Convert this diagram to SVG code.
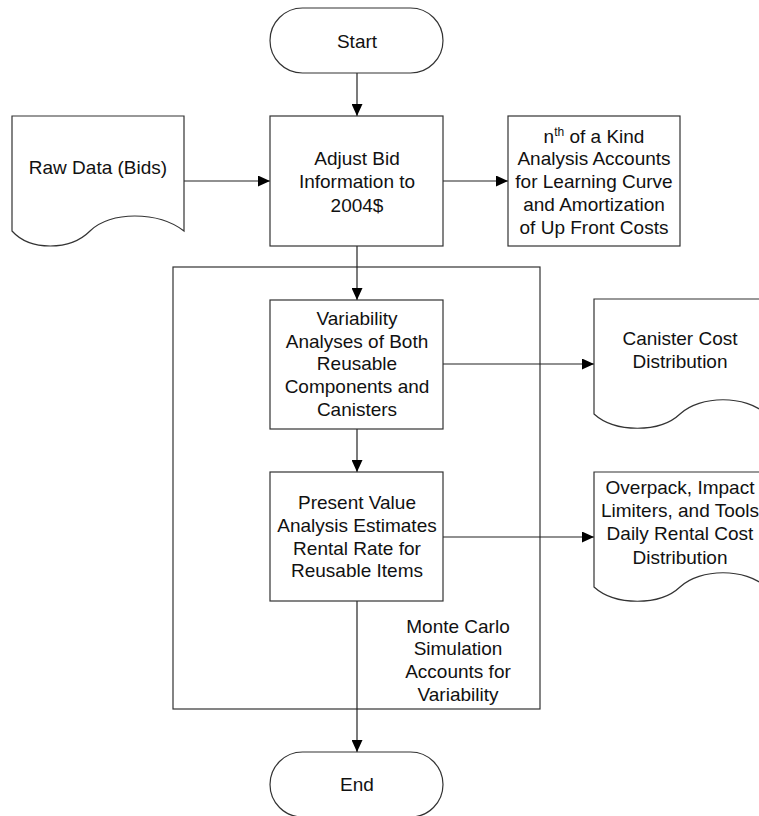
<svg xmlns="http://www.w3.org/2000/svg" width="759" height="816" viewBox="0 0 759 816">
<defs>
<marker id="arr" markerWidth="12" markerHeight="11" refX="12" refY="5.5" orient="auto" markerUnits="userSpaceOnUse">
<path d="M0,0 L12,5.5 L0,11 Z" fill="#000"/>
</marker>
<style>
.s{fill:#fff;stroke:#333;stroke-width:1.2}
.c{fill:none;stroke:#222;stroke-width:1.2}
.t{font-family:"Liberation Sans",Arial,sans-serif;font-size:19px;fill:#111;text-anchor:middle}
</style>
</defs>
<rect x="0" y="0" width="759" height="816" fill="#fff"/>
<g id="container">
<rect class="s" x="173" y="267" width="367" height="442" style="fill:none"/>
<text class="t"><tspan x="458" y="632.5">Monte Carlo</tspan><tspan x="458" y="655">Simulation</tspan><tspan x="458" y="678">Accounts for</tspan><tspan x="458" y="700.5">Variability</tspan></text>
</g>
<g id="connectors">
<line class="c" x1="357" y1="73" x2="357" y2="116" marker-end="url(#arr)"/>
<line class="c" x1="184" y1="181" x2="270" y2="181" marker-end="url(#arr)"/>
<line class="c" x1="443" y1="181" x2="508" y2="181" marker-end="url(#arr)"/>
<line class="c" x1="357" y1="246" x2="357" y2="300" marker-end="url(#arr)"/>
<line class="c" x1="443" y1="364" x2="594" y2="364" marker-end="url(#arr)"/>
<line class="c" x1="357" y1="429" x2="357" y2="472" marker-end="url(#arr)"/>
<line class="c" x1="443" y1="537" x2="594" y2="537" marker-end="url(#arr)"/>
<line class="c" x1="357" y1="601" x2="357" y2="752" marker-end="url(#arr)"/>
</g>
<g id="start">
<rect class="s" x="270" y="8" width="173" height="65" rx="32.5" ry="32.5"/>
<text class="t" x="357" y="48">Start</text>
</g>
<g id="rawdata">
<path class="s" d="M12,116 H184 V231 C158,211 110,211 90,231 C70,251 30,251 12,231 Z"/>
<text class="t" x="98" y="174">Raw Data (Bids)</text>
</g>
<g id="adjust">
<rect class="s" x="270" y="116" width="173" height="130"/>
<text class="t"><tspan x="357" y="164.5">Adjust Bid</tspan><tspan x="357" y="188">Information to</tspan><tspan x="357" y="211.5">2004$</tspan></text>
</g>
<g id="nth">
<rect class="s" x="508" y="116" width="172" height="130"/>
<text class="t"><tspan x="594" y="142.5">n<tspan font-size="12" dy="-7">th</tspan><tspan dy="7"> of a Kind</tspan></tspan><tspan x="594" y="165">Analysis Accounts</tspan><tspan x="594" y="188">for Learning Curve</tspan><tspan x="594" y="210.5">and Amortization</tspan><tspan x="594" y="233.5">of Up Front Costs</tspan></text>
</g>
<g id="variability">
<rect class="s" x="270" y="300" width="173" height="129"/>
<text class="t"><tspan x="357" y="324.5">Variability</tspan><tspan x="357" y="347.5">Analyses of Both</tspan><tspan x="357" y="370">Reusable</tspan><tspan x="357" y="393">Components and</tspan><tspan x="357" y="415.5">Canisters</tspan></text>
</g>
<g id="canister">
<path class="s" d="M594,299 H766 V414 C746,395 700,395 680,414 C660,433 615,433 594,414 Z"/>
<text class="t"><tspan x="680" y="344.5">Canister Cost</tspan><tspan x="680" y="367.5">Distribution</tspan></text>
</g>
<g id="present">
<rect class="s" x="270" y="472" width="173" height="129"/>
<text class="t"><tspan x="357" y="508.5">Present Value</tspan><tspan x="357" y="531.5">Analysis Estimates</tspan><tspan x="357" y="554.5">Rental Rate for</tspan><tspan x="357" y="576.5">Reusable Items</tspan></text>
</g>
<g id="overpack">
<path class="s" d="M594,472 H766 V587 C746,568 700,568 680,587 C660,606 615,606 594,587 Z"/>
<text class="t"><tspan x="680" y="493.5">Overpack, Impact</tspan><tspan x="680" y="516.5">Limiters, and Tools</tspan><tspan x="680" y="539.5">Daily Rental Cost</tspan><tspan x="680" y="563.5">Distribution</tspan></text>
</g>
<g id="end">
<rect class="s" x="270" y="752" width="173" height="65" rx="32.5" ry="32.5"/>
<text class="t" x="357" y="791">End</text>
</g>
</svg>
